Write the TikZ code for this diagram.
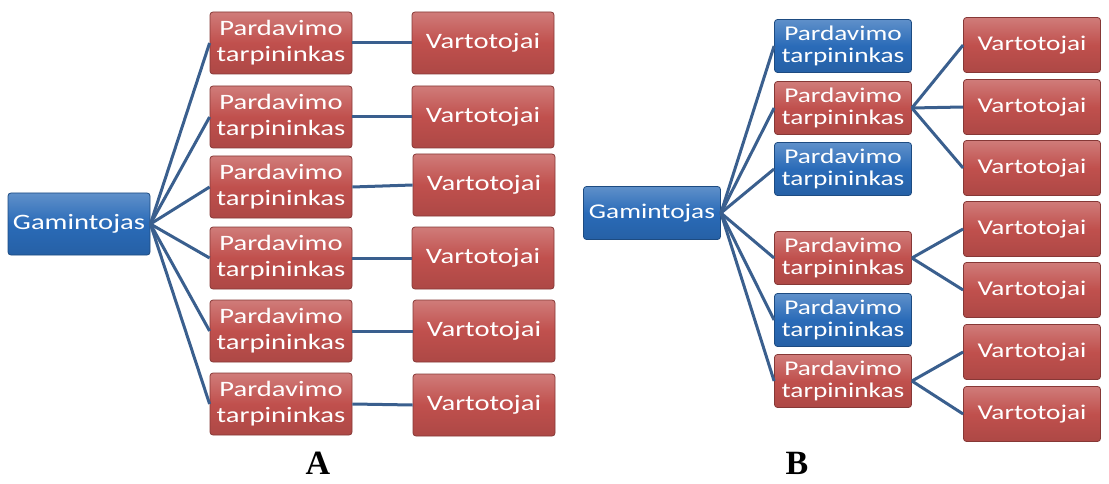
\documentclass[tikz,border=0pt]{standalone}
\usepackage{fontspec}
\setmainfont{Liberation Serif}
\newfontfamily\boxfont{Carlito}[FakeStretch=1.3]
\usetikzlibrary{positioning}
\definecolor{brick}{HTML}{C0504D}
\definecolor{royal}{HTML}{2A6BB8}
\definecolor{steel}{HTML}{3A5F8E}

\begin{document}
\begin{tikzpicture}[
  x=1pt, y=-1pt,
  blok/.style={rectangle, rounded corners=3pt, draw=#1!70!black, thick,
    top color=#1!75!white, bottom color=#1!90!black, middle color=#1,
    text=white, align=center, inner sep=0pt},
  blokA/.style={blok=#1, minimum width=142pt, minimum height=62pt,
    font=\boxfont\fontsize{22}{26}\selectfont},
  blokB/.style={blok=#1, minimum width=137pt, minimum height=53pt,
    font=\boxfont\fontsize{21}{22}\selectfont},
  link/.style={steel, line width=3pt},
  tag/.style={font=\bfseries\fontsize{34}{36}\selectfont},
]
\useasboundingbox (0,0) rectangle (1109,484);

% Schema A
\node[blokA=royal] (gamA) at (79,224) {Gamintojas};

\node[blokA=brick] (pA1) at (281,43)  {Pardavimo\\tarpininkas};
\node[blokA=brick] (pA2) at (281,117) {Pardavimo\\tarpininkas};
\node[blokA=brick] (pA3) at (281,187) {Pardavimo\\tarpininkas};
\node[blokA=brick] (pA4) at (281,258) {Pardavimo\\tarpininkas};
\node[blokA=brick] (pA5) at (281,331) {Pardavimo\\tarpininkas};
\node[blokA=brick] (pA6) at (281,404) {Pardavimo\\tarpininkas};

\node[blokA=brick] (vA1) at (483,43)  {Vartotojai};
\node[blokA=brick] (vA2) at (483,117) {Vartotojai};
\node[blokA=brick] (vA3) at (484,185) {Vartotojai};
\node[blokA=brick] (vA4) at (483,258) {Vartotojai};
\node[blokA=brick] (vA5) at (484,331) {Vartotojai};
\node[blokA=brick] (vA6) at (484,405) {Vartotojai};

\draw[link] (gamA.east) -- (pA1.west);
\draw[link] (gamA.east) -- (pA2.west);
\draw[link] (gamA.east) -- (pA3.west);
\draw[link] (gamA.east) -- (pA4.west);
\draw[link] (gamA.east) -- (pA5.west);
\draw[link] (gamA.east) -- (pA6.west);

\draw[link] (pA1.east) -- (vA1.west);
\draw[link] (pA2.east) -- (vA2.west);
\draw[link] (pA3.east) -- (vA3.west);
\draw[link] (pA4.east) -- (vA4.west);
\draw[link] (pA5.east) -- (vA5.west);
\draw[link] (pA6.east) -- (vA6.west);

\node[tag] (labA) at (318,463) {A};

% Schema B
\node[blokB=royal] (gamB) at (652,213) {Gamintojas};

\node[blokB=royal] (pB1) at (843,46)  {Pardavimo\\tarpininkas};
\node[blokB=brick] (pB2) at (843,108) {Pardavimo\\tarpininkas};
\node[blokB=royal] (pB3) at (843,169) {Pardavimo\\tarpininkas};
\node[blokB=brick] (pB4) at (843,258) {Pardavimo\\tarpininkas};
\node[blokB=royal] (pB5) at (843,320) {Pardavimo\\tarpininkas};
\node[blokB=brick] (pB6) at (843,381) {Pardavimo\\tarpininkas};

\node[blokB=brick, minimum height=55pt] (vB1) at (1032,45)  {Vartotojai};
\node[blokB=brick, minimum height=55pt] (vB2) at (1032,107) {Vartotojai};
\node[blokB=brick, minimum height=55pt] (vB3) at (1032,168) {Vartotojai};
\node[blokB=brick, minimum height=55pt] (vB4) at (1032,229) {Vartotojai};
\node[blokB=brick, minimum height=55pt] (vB5) at (1032,290) {Vartotojai};
\node[blokB=brick, minimum height=55pt] (vB6) at (1032,352) {Vartotojai};
\node[blokB=brick, minimum height=55pt] (vB7) at (1032,414) {Vartotojai};

\draw[link] (gamB.east) -- (pB1.west);
\draw[link] (gamB.east) -- (pB2.west);
\draw[link] (gamB.east) -- (pB3.west);
\draw[link] (gamB.east) -- (pB4.west);
\draw[link] (gamB.east) -- (pB5.west);
\draw[link] (gamB.east) -- (pB6.west);

\draw[link] (pB2.east) -- (vB1.west);
\draw[link] (pB2.east) -- (vB2.west);
\draw[link] (pB2.east) -- (vB3.west);
\draw[link] (pB4.east) -- (vB4.west);
\draw[link] (pB4.east) -- (vB5.west);
\draw[link] (pB6.east) -- (vB6.west);
\draw[link] (pB6.east) -- (vB7.west);

\node[tag] (labB) at (797,463) {B};

\end{tikzpicture}
\end{document}
